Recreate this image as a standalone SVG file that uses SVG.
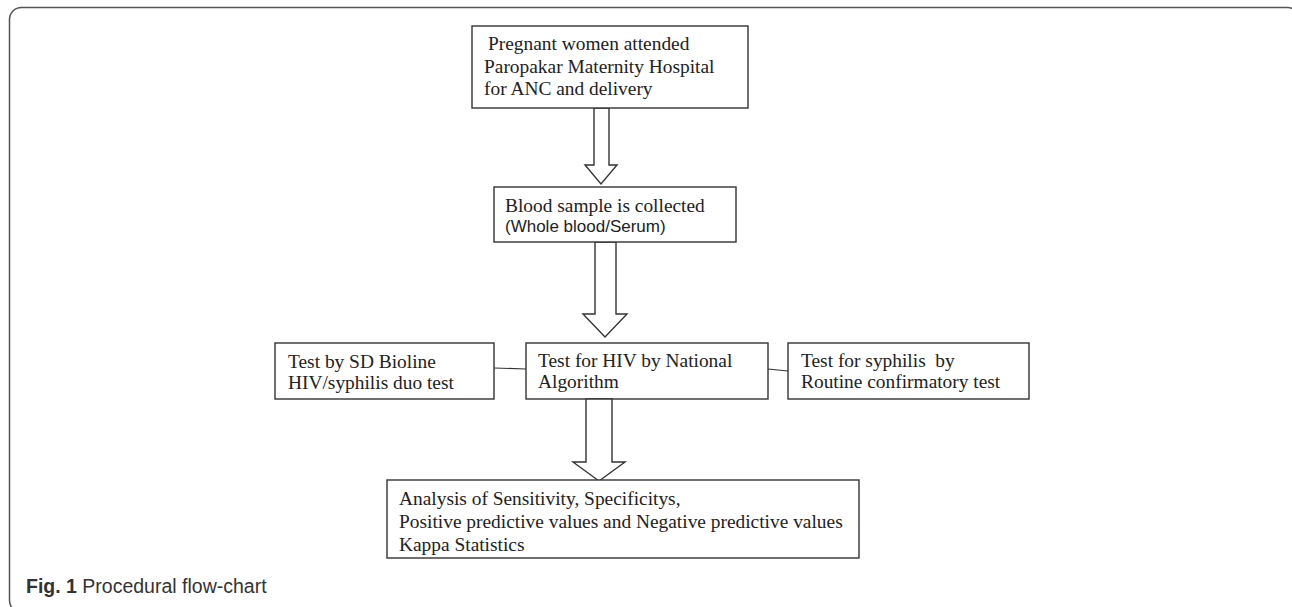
<svg xmlns="http://www.w3.org/2000/svg" width="1292" height="607" viewBox="0 0 1292 607">
<style>
.box{fill:#fff;stroke:#333;stroke-width:1.4}
.arr{fill:#fff;stroke:#333;stroke-width:1.4;stroke-linejoin:miter}
.con{fill:none;stroke:#333;stroke-width:1.2}
.t{font-family:"Liberation Serif","Times New Roman",serif;font-size:19.4px;fill:#222}
.s{font-family:"Liberation Sans",Arial,sans-serif;font-size:17px;fill:#222}
.cap{font-family:"Liberation Sans",Arial,sans-serif;font-size:19.5px;fill:#333}
</style>
<rect width="1292" height="607" fill="#fff"/>
<rect x="9.5" y="7.5" width="1290" height="605" rx="12" ry="12" fill="none" stroke="#555" stroke-width="1.5"/>
<g id="connectors">
<path class="arr" d="M594,108 L594,165 L585,165 L601,184 L617,165 L609,165 L609,108 Z"/>
<path class="arr" d="M595,242 L595,314 L583,314 L605,337 L627,314 L616,314 L616,242 Z"/>
<line class="con" x1="494" y1="368" x2="526" y2="369"/>
<line class="con" x1="768" y1="369" x2="788" y2="371"/>
</g>
<g id="node-pregnant">
<rect class="box" x="472" y="26" width="276" height="82"/>
<text class="t" x="488" y="50">Pregnant women attended</text>
<text class="t" x="484" y="72.5">Paropakar Maternity Hospital</text>
<text class="t" x="484" y="95">for ANC and delivery</text>
</g>
<g id="node-blood">
<rect class="box" x="494" y="187" width="242" height="55"/>
<text class="t" x="505" y="212">Blood sample is collected</text>
<text class="s" x="505" y="232">(Whole blood/Serum)</text>
</g>
<g id="node-sd">
<rect class="box" x="275" y="343" width="219" height="56"/>
<text class="t" x="288" y="368">Test by SD Bioline</text>
<text class="t" x="288" y="389">HIV/syphilis duo test</text>
</g>
<g id="node-hiv">
<rect class="box" x="526" y="343" width="242" height="56"/>
<text class="t" x="538" y="367">Test for HIV by National</text>
<text class="t" x="538" y="388">Algorithm</text>
</g>
<g id="node-syphilis">
<rect class="box" x="788" y="343" width="241" height="56"/>
<text class="t" x="801" y="367" xml:space="preserve">Test for syphilis  by</text>
<text class="t" x="801" y="388">Routine confirmatory test</text>
</g>
<g id="connector-arrow3">
<path class="arr" d="M586,399 L586,462 L573,462 L599,481 L625,462 L612,462 L612,399 Z"/>
</g>
<g id="node-analysis">
<rect class="box" x="387" y="480" width="472" height="78"/>
<text class="t" x="399" y="505">Analysis of Sensitivity, Specificitys,</text>
<text class="t" x="399" y="528">Positive predictive values and Negative predictive values</text>
<text class="t" x="399" y="551">Kappa Statistics</text>
</g>
<text class="cap" x="26" y="593"><tspan font-weight="bold">Fig. 1</tspan> Procedural flow-chart</text>
</svg>
